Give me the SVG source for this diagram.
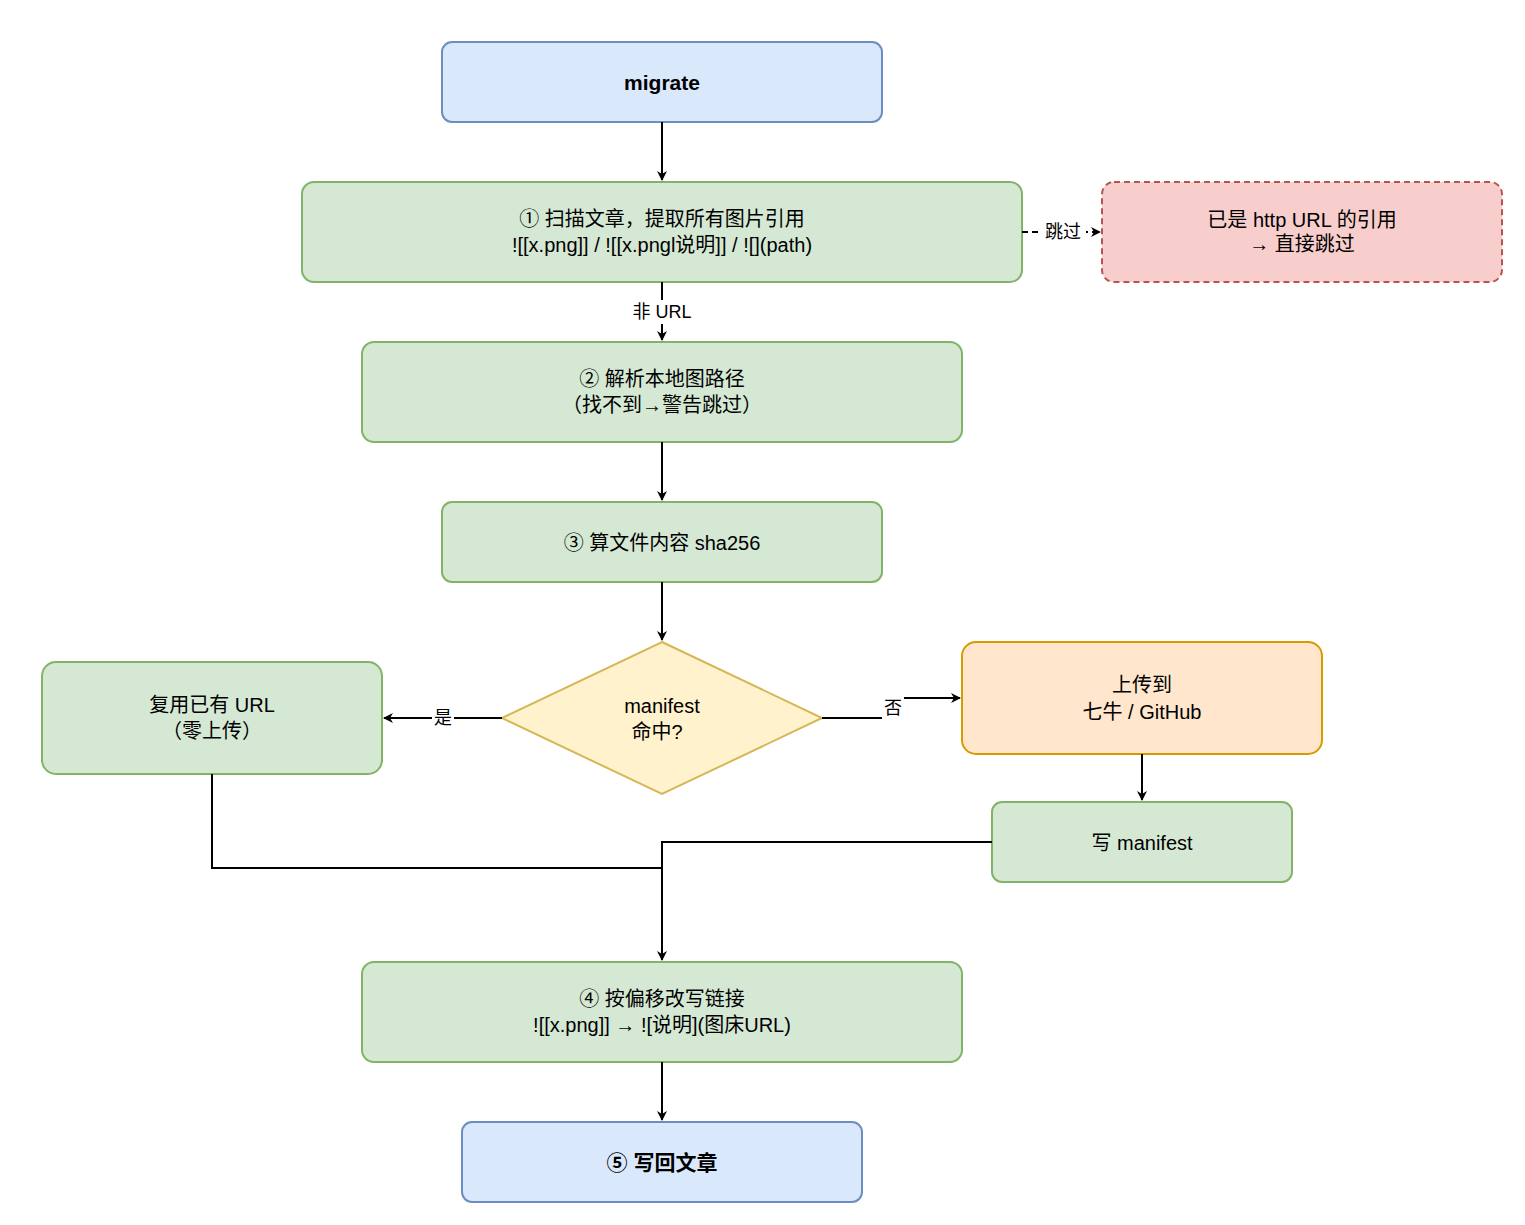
<svg xmlns="http://www.w3.org/2000/svg" width="1525" height="1225" viewBox="0 0 1525 1225">
<style>
text{font-family:"Liberation Sans","Noto Sans CJK SC",sans-serif;font-size:20px;fill:#000;text-anchor:middle}
.b{font-weight:bold;font-size:21px}
.g{fill:#d5e8d4;stroke:#82b366;stroke-width:2}
.bl{fill:#dae8fc;stroke:#6c8ebf;stroke-width:2}
.c{fill:none;stroke:#000;stroke-width:2}
.l{font-size:18px}
</style>
<defs><marker id="a" viewBox="0 0 10 10" refX="9" refY="5" markerWidth="10" markerHeight="10" markerUnits="userSpaceOnUse" orient="auto"><path d="M0,0L10,5L0,10L3,5z" fill="#000"/></marker></defs>
<rect width="1525" height="1225" fill="#fff"/>
<g id="n0"><rect class="bl" x="442" y="42" width="440" height="80" rx="10"/><text class="b" x="662" y="90">migrate</text></g>
<g id="n1"><rect class="g" x="302" y="182" width="720" height="100" rx="12"/><text x="662" y="226">① 扫描文章，提取所有图片引用</text><text x="662" y="252">![[x.png]] / ![[x.pngl说明]] / ![](path)</text></g>
<g id="n2"><rect x="1102" y="182" width="400" height="100" rx="12" fill="#f8cecc" stroke="#b85450" stroke-width="2" stroke-dasharray="6 4"/><text x="1302" y="227">已是 http URL 的引用</text><text x="1302" y="251">→ 直接跳过</text></g>
<g id="n3"><rect class="g" x="362" y="342" width="600" height="100" rx="12"/><text x="662" y="386">② 解析本地图路径</text><text x="662" y="412">（找不到→警告跳过）</text></g>
<g id="n4"><rect class="g" x="442" y="502" width="440" height="80" rx="10"/><text x="662" y="550">③ 算文件内容 sha256</text></g>
<g id="n5"><path d="M662,642L822,718L662,794L502,718z" fill="#fff2cc" stroke="#d6b656" stroke-width="2"/><text x="662" y="713">manifest</text><text x="657" y="739">命中?</text></g>
<g id="n6"><rect class="g" x="42" y="662" width="340" height="112" rx="14"/><text x="212" y="712">复用已有 URL</text><text x="212" y="738">（零上传）</text></g>
<g id="n7"><rect x="962" y="642" width="360" height="112" rx="14" fill="#ffe6cc" stroke="#d79b00" stroke-width="2"/><text x="1142" y="692">上传到</text><text x="1142" y="719">七牛 / GitHub</text></g>
<g id="n8"><rect class="g" x="992" y="802" width="300" height="80" rx="10"/><text x="1142" y="850">写 manifest</text></g>
<g id="n9"><rect class="g" x="362" y="962" width="600" height="100" rx="12"/><text x="662" y="1006">④ 按偏移改写链接</text><text x="662" y="1032">![[x.png]] → ![说明](图床URL)</text></g>
<g id="n10"><rect class="bl" x="462" y="1122" width="400" height="80" rx="10"/><text class="b" x="662" y="1170">⑤ 写回文章</text></g>
<g id="edges">
<path class="c" d="M662,122V180" marker-end="url(#a)"/>
<path class="c" d="M1022,232H1100" stroke-dasharray="6 4" marker-end="url(#a)"/>
<rect x="1040" y="220" width="46" height="24" fill="#fff"/><text class="l" x="1063" y="238">跳过</text>
<path class="c" d="M662,282V340" marker-end="url(#a)"/>
<rect x="628" y="300" width="68" height="24" fill="#fff"/><text class="l" x="662" y="318">非 URL</text>
<path class="c" d="M662,442V500" marker-end="url(#a)"/>
<path class="c" d="M662,582V640" marker-end="url(#a)"/>
<path class="c" d="M502,718H384" marker-end="url(#a)"/>
<rect x="432" y="706" width="22" height="24" fill="#fff"/><text class="l" x="443" y="724">是</text>
<path class="c" d="M822,718H892V698H960" marker-end="url(#a)"/>
<rect x="882" y="696" width="22" height="24" fill="#fff"/><text class="l" x="893" y="714">否</text>
<path class="c" d="M1142,754V800" marker-end="url(#a)"/>
<path class="c" d="M212,774V868H662V960" marker-end="url(#a)"/>
<path class="c" d="M992,842H662V868"/>
<path class="c" d="M662,1062V1120" marker-end="url(#a)"/>
</g>
</svg>
